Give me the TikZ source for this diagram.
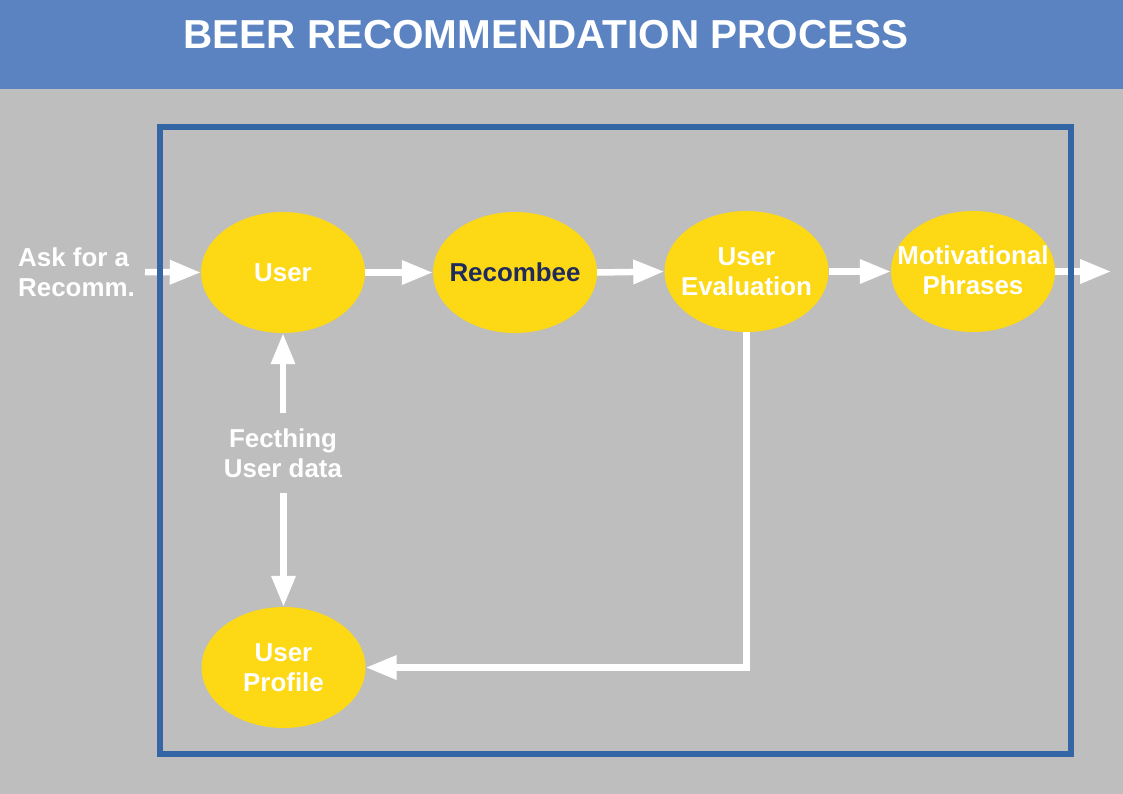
\documentclass[tikz,border=0pt]{standalone}
\usepackage{fontspec}
\setmainfont{Liberation Sans}
\usetikzlibrary{arrows.meta,shapes.geometric}
\definecolor{bggray}{RGB}{190,190,190}
\definecolor{headblue}{RGB}{91,131,194}
\definecolor{frameblue}{RGB}{52,101,164}
\definecolor{bubyellow}{RGB}{253,216,21}
\definecolor{navytext}{RGB}{31,43,91}
\begin{document}
\begin{tikzpicture}[x=1bp,y=-1bp,
  bub/.style={ellipse,fill=bubyellow,draw=none,minimum width=164bp,minimum height=121bp,inner sep=0pt},
  txt/.style={text=white,font=\bfseries\fontsize{26}{30}\selectfont,align=center,inner sep=0pt},
  arr/.style={draw=white,line width=6.5bp,-{Triangle[length=31bp,width=23bp]}},
  frame/.style={draw=frameblue,line width=5.5bp}]
\useasboundingbox (0,0) rectangle (1123,794);
\fill[bggray] (0,0) rectangle (1123,794);
\fill[headblue] (0,0) rectangle (1123,89);
\node[text=white,font=\bfseries\fontsize{40.6}{44}\selectfont,anchor=base,inner sep=0pt] (title) at (546,49) {BEER RECOMMENDATION PROCESS};
% bubbles
\node[bub] (user) at (283,272.5) {};
\node[bub] (rec) at (515,272.5) {};
\node[bub] (ue) at (746.5,271.5) {};
\node[bub] (mp) at (973,271.5) {};
\node[bub] (prof) at (283.5,667.5) {};
\node[txt] (usert) at (user) {User};
\node[txt,text=navytext] (rect) at (rec) {Recombee};
\node[txt] (uet) at (ue) {User\\Evaluation};
\node[txt] (mpt) at ([yshift=1.5bp]mp.center) {Motivational\\Phrases};
\node[txt] (proft) at (prof) {User\\Profile};
% side texts
\node[txt,align=left,anchor=west] (ask) at (18,272) {Ask for a\\Recomm.};
\node[txt,inner ysep=15bp] (fetch) at (283,453) {Fecthing\\User data};
\coordinate (out) at (1111,271.5);
% connectors
\draw[arr] ([xshift=10bp]ask.east) -- (user.west);
\draw[arr] (user.east) -- (rec.west);
\draw[arr] (rec.east) -- (ue.west);
\draw[arr] (ue.east) -- (mp.west);
\draw[arr] (mp.east) -- (out);
\draw[arr] (fetch.north) -- (user.south);
\draw[arr] (fetch.south -| prof.north) -- (prof.north);
\draw[arr] (ue.south) |- (prof.east);
% frame
\draw[frame] (160,127) rectangle (1071,754);
\end{tikzpicture}
\end{document}
